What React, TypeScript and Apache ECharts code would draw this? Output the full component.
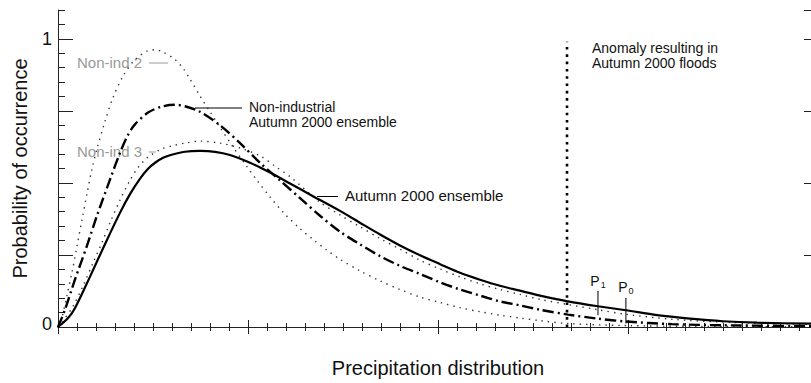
import React, { useEffect, useRef } from 'react';
import * as echarts from 'echarts';

// Autumn 2000 ensemble (solid)
const autumnX = [0, 0.053, 0.089, 0.168, 0.247, 0.326, 0.379, 0.432, 0.474, 0.511, 0.553, 0.589, 0.668, 0.747, 0.826, 0.905, 1.011, 1.116, 1.221, 1.342, 1.484, 1.589, 1.695, 1.8, 1.905, 2.011, 2.116, 2.221, 2.326, 2.432, 2.537, 2.684, 2.842, 2.989, 3.153, 3.326, 3.5, 3.679, 4.0];
const autumnY = [0, 0.031, 0.065, 0.174, 0.287, 0.396, 0.461, 0.515, 0.549, 0.57, 0.587, 0.596, 0.608, 0.611, 0.608, 0.597, 0.57, 0.536, 0.498, 0.454, 0.403, 0.362, 0.321, 0.283, 0.249, 0.218, 0.188, 0.164, 0.143, 0.126, 0.109, 0.089, 0.072, 0.058, 0.041, 0.029, 0.02, 0.015, 0.011];

// Non-industrial Autumn 2000 ensemble (dash-dot)
const nonIndX = [0, 0.037, 0.089, 0.153, 0.205, 0.274, 0.326, 0.368, 0.405, 0.474, 0.547, 0.616, 0.668, 0.747, 0.853, 0.958, 1.063, 1.168, 1.274, 1.379, 1.484, 1.589, 1.695, 1.8, 1.905, 2.011, 2.116, 2.221, 2.326, 2.432, 2.537, 2.684, 2.842, 2.989, 3.232, 3.495, 4.0];
const nonIndY = [0, 0.061, 0.164, 0.283, 0.386, 0.512, 0.604, 0.666, 0.703, 0.744, 0.765, 0.771, 0.766, 0.747, 0.7, 0.638, 0.57, 0.509, 0.447, 0.386, 0.331, 0.287, 0.246, 0.212, 0.184, 0.155, 0.13, 0.109, 0.089, 0.075, 0.06, 0.043, 0.029, 0.019, 0.01, 0.006, 0.003];

// Non-ind 2 (dotted, tall)
const nonInd2X = [0, 0.021, 0.047, 0.074, 0.1, 0.126, 0.153, 0.179, 0.205, 0.247, 0.289, 0.342, 0.405, 0.474, 0.511, 0.547, 0.616, 0.658, 0.695, 0.747, 0.8, 0.853, 0.921, 0.995, 1.047, 1.116, 1.184, 1.274, 1.342, 1.416, 1.484, 1.589, 1.695, 1.8, 1.905, 2.011, 2.116, 2.221, 2.326, 2.432, 2.537, 2.684, 2.989, 3.379, 4.0];
const nonInd2Y = [0, 0.034, 0.109, 0.191, 0.28, 0.372, 0.464, 0.549, 0.618, 0.713, 0.795, 0.87, 0.928, 0.959, 0.962, 0.956, 0.928, 0.898, 0.86, 0.802, 0.747, 0.693, 0.625, 0.556, 0.509, 0.451, 0.399, 0.341, 0.304, 0.266, 0.235, 0.195, 0.16, 0.13, 0.104, 0.085, 0.067, 0.053, 0.041, 0.031, 0.022, 0.012, 0.005, 0.002, 0.001];

// Non-ind 3 (dotted, lower)
const nonInd3X = [0, 0.026, 0.079, 0.132, 0.184, 0.232, 0.274, 0.326, 0.379, 0.421, 0.474, 0.547, 0.616, 0.668, 0.747, 0.853, 0.958, 1.063, 1.153, 1.221, 1.379, 1.484, 1.589, 1.695, 1.8, 1.905, 2.011, 2.116, 2.221, 2.326, 2.432, 2.537, 2.684, 2.842, 2.989, 3.232, 3.495, 4.0];
const nonInd3Y = [0, 0.02, 0.072, 0.143, 0.222, 0.294, 0.362, 0.44, 0.509, 0.553, 0.59, 0.618, 0.631, 0.638, 0.645, 0.638, 0.621, 0.594, 0.553, 0.522, 0.433, 0.389, 0.348, 0.307, 0.27, 0.232, 0.201, 0.174, 0.15, 0.13, 0.113, 0.096, 0.078, 0.06, 0.044, 0.027, 0.017, 0.008];

// Flood anomaly line and P markers
const floodX = 2.679;
const floodRange = [0, 0.99];
const p1X = 2.842;
const p1Range = [0.043, 0.123];
const p0X = 2.989;
const p0Range = [0.014, 0.099];

const yTickLabels: Record<string, string> = { '0': '0', '1': '1' };

const FONT = "'Liberation Sans', Arial, Helvetica, sans-serif";

function pairs(xs: number[], ys: number[]) {
  return xs.map((x, i) => [x, ys[i]]);
}

export default function App() {
  const ref = useRef<HTMLDivElement>(null);
  useEffect(() => {
    if (!ref.current) return;
    const chart = echarts.init(ref.current, null, { renderer: 'svg' });
    const axisColor = '#222';
    const dotted = { color: '#333', width: 1.4, type: [1.4, 5] as number[] };
    const pLabel = (sub: string) => ({
      show: true,
      position: 'top',
      distance: 2,
      formatter: `{p|P}{s|${sub}}`,
      rich: {
        p: { fontSize: 14, fontFamily: FONT, color: '#111' },
        s: { fontSize: 9, fontFamily: FONT, color: '#111', verticalAlign: 'bottom', padding: [8, 0, 0, 1] },
      },
    });
    const curve = { type: 'line', symbol: 'none', showSymbol: false, smooth: 0.3 };
    chart.setOption({
      animation: false,
      backgroundColor: '#fff',
      grid: { left: 58, top: 10, width: 760, height: 322, containLabel: false },
      xAxis: [
        {
          type: 'value', min: 0, max: 4, interval: 1, position: 'bottom',
          axisLine: { show: true, lineStyle: { color: axisColor, width: 1 } },
          axisTick: { show: true, inside: true, length: 7, lineStyle: { color: axisColor } },
          minorTick: { show: true, splitNumber: 10, length: 4, lineStyle: { color: axisColor } },
          axisLabel: { show: false }, splitLine: { show: false }, minorSplitLine: { show: false },
          name: 'Precipitation distribution', nameLocation: 'middle', nameGap: 31,
          nameTextStyle: { fontSize: 20, color: '#111', fontFamily: FONT },
        },
        {
          type: 'value', min: 0, max: 4, interval: 1, position: 'top',
          axisLine: { show: true, lineStyle: { color: axisColor, width: 1 } },
          axisTick: { show: true, inside: true, length: 7, lineStyle: { color: axisColor } },
          minorTick: { show: true, splitNumber: 10, length: 4, lineStyle: { color: axisColor } },
          axisLabel: { show: false }, splitLine: { show: false },
        },
      ],
      yAxis: [
        {
          type: 'value', min: 0, max: 1.1, interval: 0.25, position: 'left',
          axisLine: { show: true, lineStyle: { color: axisColor, width: 1 } },
          axisTick: { show: true, inside: true, length: 15, lineStyle: { color: axisColor } },
          axisLabel: {
            show: true, margin: 6, showMaxLabel: false,
            formatter: (v: number) => {
              const k = String(Math.round(v * 1000) / 1000);
              if (k === '0') return '{z|' + yTickLabels[k] + '}';
              return yTickLabels[k] ? '{o|' + yTickLabels[k] + '}' : '';
            },
            rich: {
              z: { fontSize: 18, fontFamily: FONT, color: '#111', padding: [0, 0, 6, 0] },
              o: { fontSize: 18, fontFamily: FONT, color: '#111' },
            },
          },
          splitLine: { show: false },
          name: 'Probability of occurrence', nameLocation: 'middle', nameGap: 28,
          nameTextStyle: { fontSize: 20, color: '#111', fontFamily: FONT },
        },
        {
          type: 'value', min: 0, max: 1.1, interval: 0.05, position: 'left',
          axisLine: { show: false },
          axisTick: { show: true, inside: true, length: 7, lineStyle: { color: axisColor } },
          axisLabel: { show: false }, splitLine: { show: false },
        },
        {
          type: 'value', min: 0, max: 1.1, interval: 0.25, position: 'right',
          axisLine: { show: true, lineStyle: { color: axisColor, width: 1 } },
          axisTick: { show: true, inside: true, length: 14, lineStyle: { color: axisColor } },
          axisLabel: { show: false }, splitLine: { show: false },
        },
      ],
      series: [
        { ...curve, name: 'Non-ind 2', data: pairs(nonInd2X, nonInd2Y), lineStyle: dotted },
        { ...curve, name: 'Non-ind 3', data: pairs(nonInd3X, nonInd3Y), lineStyle: dotted },
        {
          ...curve, name: 'Non-industrial Autumn 2000 ensemble', data: pairs(nonIndX, nonIndY),
          lineStyle: { color: '#000', width: 2.4, type: [11, 4, 2, 4] },
        },
        {
          ...curve, name: 'Autumn 2000 ensemble', data: pairs(autumnX, autumnY),
          lineStyle: { color: '#000', width: 2.2, type: 'solid' },
        },
        {
          name: 'Flood anomaly', type: 'line', data: floodRange.map((y) => [floodX, y]), symbol: 'none',
          lineStyle: { color: '#000', width: 2.6, type: [2.6, 4.7] },
        },
        {
          name: 'P1', type: 'line', symbol: 'circle', symbolSize: 1, showSymbol: true,
          itemStyle: { color: '#000' },
          data: [{ value: [p1X, p1Range[0]] }, { value: [p1X, p1Range[1]], label: pLabel('1') }],
          lineStyle: { color: '#000', width: 1 },
        },
        {
          name: 'P0', type: 'line', symbol: 'circle', symbolSize: 1, showSymbol: true,
          itemStyle: { color: '#000' },
          data: [{ value: [p0X, p0Range[0]] }, { value: [p0X, p0Range[1]], label: pLabel('0') }],
          lineStyle: { color: '#000', width: 1 },
        },
      ],
      graphic: [
        { type: 'text', left: 77, top: 55, style: { text: 'Non-ind 2', fontSize: 15, fontFamily: FONT, fill: '#999' } },
        { type: 'line', shape: { x1: 149, y1: 63, x2: 168, y2: 63 }, style: { stroke: '#999', lineWidth: 1 } },
        { type: 'text', left: 77, top: 144, style: { text: 'Non-ind 3', fontSize: 15, fontFamily: FONT, fill: '#999' } },
        { type: 'line', shape: { x1: 149, y1: 152, x2: 156, y2: 152 }, style: { stroke: '#999', lineWidth: 1 } },
        { type: 'line', shape: { x1: 195, y1: 108, x2: 242, y2: 108 }, style: { stroke: '#000', lineWidth: 1 } },
        { type: 'text', left: 249, top: 99, style: { text: 'Non-industrial\nAutumn 2000 ensemble', fontSize: 14, lineHeight: 15, fontFamily: FONT, fill: '#111' } },
        { type: 'line', shape: { x1: 317, y1: 196.5, x2: 338, y2: 196.5 }, style: { stroke: '#000', lineWidth: 1 } },
        { type: 'text', left: 345, top: 188, style: { text: 'Autumn 2000 ensemble', fontSize: 15, fontFamily: FONT, fill: '#111' } },
        { type: 'text', left: 592, top: 40.5, style: { text: 'Anomaly resulting in\nAutumn 2000 floods', fontSize: 14, lineHeight: 15, fontFamily: FONT, fill: '#111' } },
      ],
    });
    return () => chart.dispose();
  }, []);
  return (
    <div style={{ position: 'fixed', left: 0, top: 0, width: 811, height: 383, overflow: 'hidden', background: '#fff' }}>
      <div ref={ref} style={{ width: 830, height: 383 }} />
    </div>
  );
}
